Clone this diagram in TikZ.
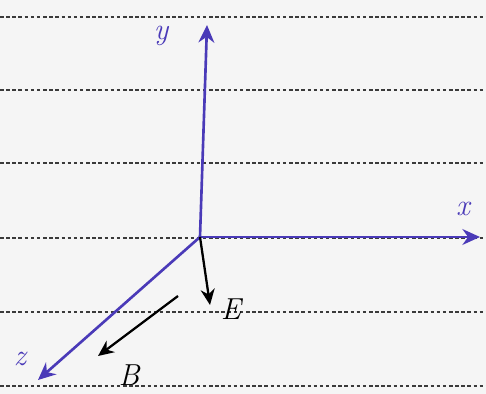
\documentclass[tikz,border=0pt]{standalone}
\usepackage{xcolor}
\usepackage{tikz}
\usetikzlibrary{arrows.meta, positioning, calc}
\definecolor{axblue}{HTML}{4A3AB8}
\definecolor{paper}{HTML}{F5F5F5}
\definecolor{ruled}{HTML}{3A3A3A}

\begin{document}
\begin{tikzpicture}
  \tikzset{
    axis/.style={draw=axblue, line width=1.5pt, -{Stealth[length=10pt, width=9pt]}},
    field/.style={draw=black, line width=1.3pt, -{Stealth[length=9pt, width=8pt]}},
    rule/.style={draw=ruled, line width=1pt, dash pattern=on 2pt off 1.5pt},
    lbl/.style={font=\LARGE\itshape, inner sep=1pt},
  }
  \fill[paper] (0,0) rectangle (9.72,7.88);
  \useasboundingbox (0,0) rectangle (9.72,7.88);
  % ruled paper lines
  \foreach \ly in {7.54, 6.08, 4.62, 3.12, 1.64, 0.16}
    \draw[rule] (0,\ly) -- (9.72,\ly);

  \coordinate (o) at (4.0,3.14);
  \coordinate (xtip) at (9.6,3.14);
  \coordinate (ytip) at (4.14,7.38);
  \coordinate (ztip) at (0.76,0.28);
  \coordinate (etip) at (4.2,1.78);
  \coordinate (bstart) at (3.56,1.96);
  \coordinate (btip) at (1.96,0.76);

  \draw[axis] (o) -- (xtip);
  \draw[axis] (o) -- (ytip);
  \draw[axis] (o) -- (ztip);
  \draw[field] (o) -- (etip);
  \draw[field] (bstart) -- (btip);

  \node[lbl, text=axblue] (xl) at (9.26,3.7) {x};
  \node[lbl, text=axblue] (yl) at (3.22,7.16) {y};
  \node[lbl, text=axblue] (zl) at (0.4,0.7) {z};
  \node[lbl] (el) at (4.62,1.7) {E};
  \node[lbl] (bl) at (2.58,0.38) {B};
\end{tikzpicture}
\end{document}
